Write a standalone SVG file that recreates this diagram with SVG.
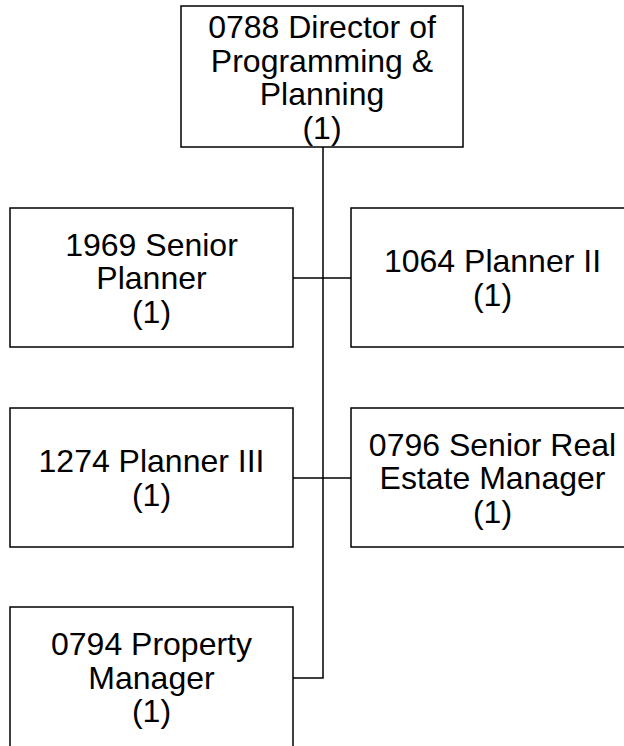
<svg xmlns="http://www.w3.org/2000/svg" width="624" height="746" viewBox="0 0 624 746">
<style>
.box{fill:#fff;stroke:#000;stroke-width:1.5}
.lbl{font-family:"Liberation Sans",Arial,sans-serif;font-size:32px;fill:#000;text-anchor:middle}
.conn{fill:none;stroke:#000;stroke-width:1.5}
</style>
<rect width="624" height="746" fill="#fff"/>
<g id="connectors">
<path class="conn" d="M323,147 V678 H293"/>
<path class="conn" d="M293,278 H351"/>
<path class="conn" d="M293,478 H351"/>
</g>
<g id="n0788">
<rect class="box" x="181" y="6" width="282" height="141"/>
<text class="lbl" x="322" y="38">0788 Director of</text>
<text class="lbl" x="322" y="71.5">Programming &amp;</text>
<text class="lbl" x="322" y="105">Planning</text>
<text class="lbl" x="322" y="138.5">(1)</text>
</g>
<g id="n1969">
<rect class="box" x="10" y="208" width="283" height="139"/>
<text class="lbl" x="151.5" y="255.5">1969 Senior</text>
<text class="lbl" x="151.5" y="289">Planner</text>
<text class="lbl" x="151.5" y="322.5">(1)</text>
</g>
<g id="n1064">
<rect class="box" x="351" y="208" width="283" height="139"/>
<text class="lbl" x="492.5" y="272">1064 Planner II</text>
<text class="lbl" x="492.5" y="305.5">(1)</text>
</g>
<g id="n1274">
<rect class="box" x="10" y="408" width="283" height="139"/>
<text class="lbl" x="151.5" y="472">1274 Planner III</text>
<text class="lbl" x="151.5" y="505.5">(1)</text>
</g>
<g id="n0796">
<rect class="box" x="351" y="408" width="283" height="139"/>
<text class="lbl" x="492.5" y="455.5">0796 Senior Real</text>
<text class="lbl" x="492.5" y="489">Estate Manager</text>
<text class="lbl" x="492.5" y="522.5">(1)</text>
</g>
<g id="n0794">
<rect class="box" x="10" y="607" width="283" height="141"/>
<text class="lbl" x="151.5" y="655">0794 Property</text>
<text class="lbl" x="151.5" y="688.5">Manager</text>
<text class="lbl" x="151.5" y="722">(1)</text>
</g>
</svg>
